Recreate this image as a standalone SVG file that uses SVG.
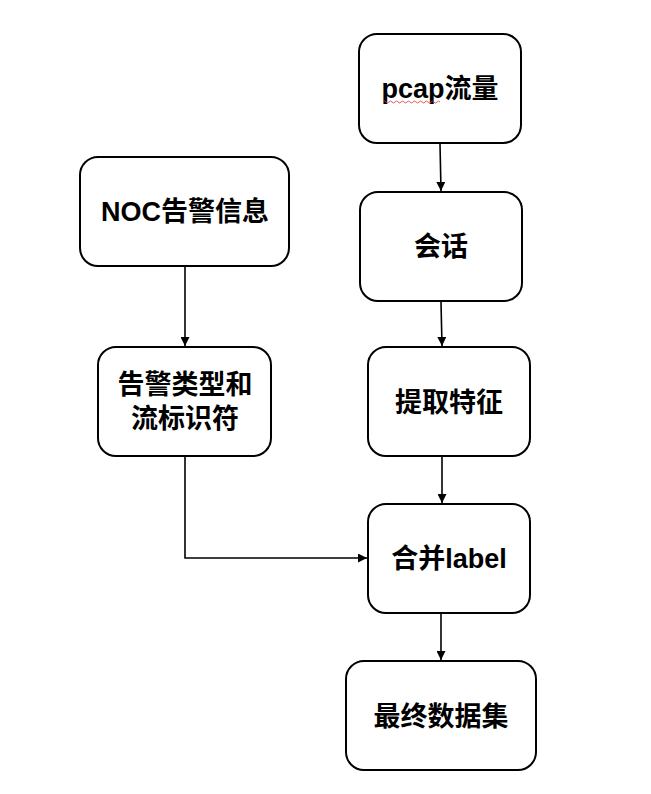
<svg xmlns="http://www.w3.org/2000/svg" width="651" height="794" viewBox="0 0 651 794">
<style>
.box{fill:#fff;stroke:#000;stroke-width:2}
.t{font-family:"Liberation Sans","Noto Sans CJK SC",sans-serif;font-size:27px;font-weight:bold;fill:#000;text-anchor:middle;dominant-baseline:central}
.c{fill:none;stroke:#000;stroke-width:1.6}
</style>
<defs>
<marker id="ah" viewBox="0 0 10 10" refX="10" refY="5" markerWidth="9" markerHeight="9" markerUnits="userSpaceOnUse" orient="auto">
<path d="M0,0 L10,5 L0,10 Z" fill="#000"/>
</marker>
</defs>
<rect width="651" height="794" fill="#fff"/>
<g id="connectors">
<path class="c" d="M440,144 L441,191" marker-end="url(#ah)"/>
<path class="c" d="M441,302 L442,346" marker-end="url(#ah)"/>
<path class="c" d="M442,457 L442,503" marker-end="url(#ah)"/>
<path class="c" d="M441,614 L441,660" marker-end="url(#ah)"/>
<path class="c" d="M185,267 L185,346" marker-end="url(#ah)"/>
<path class="c" d="M185,457 L185,558 L367,558" marker-end="url(#ah)"/>
</g>
<g id="pcap">
<rect class="box" x="359" y="34" width="162" height="109" rx="18"/>
<text class="t" x="440" y="89">pcap流量</text>
<path d="M383,102 q1.5,-2 3,0 t3,0 t3,0 t3,0 t3,0 t3,0 t3,0 t3,0 t3,0 t3,0 t3,0 t3,0 t3,0 t3,0 t3,0 t3,0 t3,0 t3,0 t3,0" fill="none" stroke="#e03030" stroke-width="0.8"/>
</g>
<g id="session">
<rect class="box" x="360" y="192" width="162" height="109" rx="18"/>
<text class="t" x="441" y="247">会话</text>
</g>
<g id="feature">
<rect class="box" x="368" y="347" width="162" height="109" rx="18"/>
<text class="t" x="449" y="403">提取特征</text>
</g>
<g id="merge">
<rect class="box" x="368" y="504" width="162" height="109" rx="18"/>
<text class="t" x="449" y="559">合并label</text>
</g>
<g id="final">
<rect class="box" x="346" y="661" width="190" height="109" rx="18"/>
<text class="t" x="441" y="717">最终数据集</text>
</g>
<g id="noc">
<rect class="box" x="80" y="157" width="209" height="109" rx="18"/>
<text class="t" x="185" y="212">NOC告警信息</text>
</g>
<g id="alarm">
<rect class="box" x="98" y="347" width="173" height="109" rx="18"/>
<text class="t" x="185" y="385">告警类型和</text>
<text class="t" x="185" y="419">流标识符</text>
</g>
</svg>
